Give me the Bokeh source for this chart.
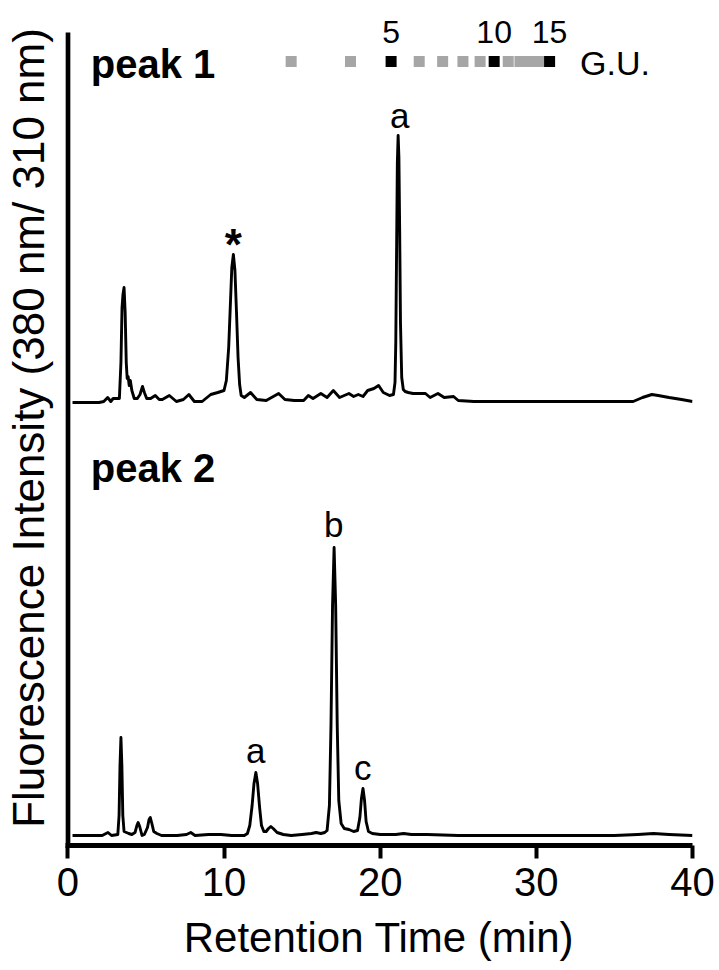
from bokeh.plotting import figure
from bokeh.models import Range1d, FixedTicker, ColumnDataSource
from bokeh.core.properties import value
from bokeh.embed import file_html
from bokeh.resources import INLINE

# ---------------- data ----------------
# Retention time (min) and fluorescence signal (arbitrary units) for "peak 1"
peak1_time = [0.3, 1.0, 2.0, 2.3, 2.55, 2.75, 2.9, 3.3, 3.4, 3.47, 3.53, 3.6, 3.67, 3.74,
              3.8, 3.86, 3.93, 4.0, 4.1, 4.25, 4.45, 4.62, 4.78, 4.9, 5.05, 5.3, 5.6, 5.85,
              6.05, 6.5, 6.95, 7.4, 7.75, 8.1, 8.6, 9.15, 9.6, 10.0, 10.15, 10.3, 10.4,
              10.5, 10.6, 10.7, 10.8, 10.9, 11.0, 11.1, 11.3, 11.7, 12.1, 12.7, 13.5,
              13.9, 14.5, 15.1, 15.4, 15.7, 16.2, 16.6, 17.0, 17.4, 18.0, 18.3, 18.6,
              18.9, 19.2, 19.6, 19.9, 20.2, 20.6, 20.85, 20.95, 21.0, 21.05, 21.1, 21.15,
              21.2, 21.25, 21.3, 21.38, 21.48, 21.6, 21.8, 22.1, 22.5, 22.9, 23.2, 23.7,
              24.1, 24.7, 25.0, 26.0, 28.0, 30.0, 32.0, 34.0, 36.2, 36.8, 37.4, 37.8,
              38.5, 39.3, 40.0]
peak1_signal = [0, 0, 0, 1, 5, 1, 4, 4, 40, 95, 108, 115, 90, 40,
                24, 26, 17, 22, 12, 4, 4, 8, 16, 10, 4, 4, 7, 3,
                3, 7, 1, 3, 8, 1, 1, 8, 10, 12, 22, 55, 95,
                135, 148, 132, 90, 45, 18, 7, 5, 10, 3, 2, 9,
                3, 2, 2, 7, 4, 9, 5, 12, 5, 9, 6, 8,
                6, 12, 14, 17, 10, 7, 8, 20, 60, 150, 240, 267,
                245, 170, 80, 25, 13, 11, 10, 9, 9, 9, 5, 9,
                5, 6, 2, 1, 1, 1, 1, 1, 1, 5, 8, 7,
                5, 3, 1]

# Retention time (min) and fluorescence signal (arbitrary units) for "peak 2"
peak2_time = [0.3, 1.5, 2.2, 2.57, 2.8, 3.2, 3.28, 3.34, 3.4, 3.46, 3.52, 3.6, 3.75, 3.9,
              4.1, 4.3, 4.42, 4.5, 4.6, 4.75, 4.9, 5.1, 5.2, 5.28, 5.38, 5.5, 5.7, 6.0,
              7.0, 7.6, 7.87, 8.15, 9.0, 9.8, 10.5, 11.3, 11.5, 11.65, 11.8, 11.92, 12.04,
              12.15, 12.28, 12.4, 12.55, 12.7, 12.85, 13.0, 13.15, 13.4, 13.8, 14.3, 15.0,
              15.6, 15.9, 16.2, 16.45, 16.6, 16.75, 16.85, 16.95, 17.05, 17.15, 17.25,
              17.35, 17.5, 17.7, 18.0, 18.3, 18.55, 18.7, 18.8, 18.9, 19.0, 19.1, 19.25,
              19.5, 20.0, 20.5, 21.0, 21.5, 22.0, 23.0, 25.0, 30.0, 35.0, 36.5, 37.5,
              38.5, 40.0]
peak2_signal = [0, 0, 0, 3, 0, 1, 20, 70, 98, 70, 20, 4, 3, 2,
                1, 3, 10, 13, 9, 0, 1, 8, 16, 18, 12, 4, 2, 0,
                0, 1, 3, 0, 1, 1, 0, 0, 2, 10, 30, 52, 63,
                52, 28, 10, 4, 4, 7, 9, 7, 3, 1, 0, 1,
                2, 3, 2, 3, 5, 30, 110, 230, 288, 230, 110,
                35, 12, 7, 6, 4, 5, 18, 37, 47, 35, 14, 4,
                2, 1, 1, 1, 2, 1, 1, 0, 0, 0, 1, 2,
                1, 0]

# Glucose-unit ladder (G.U.) positions along the retention-time axis
gu_units = [3, 4, 5, 6, 7, 8, 9, 10, 11, 12, 13, 14, 15]
gu_times = [14.3, 18.1, 20.7, 22.5, 24.0, 25.3, 26.4, 27.3, 28.2, 28.95, 29.6, 30.25, 30.85]
gu_labelled = [5, 10, 15]

# x axis ticks
x_ticks = [0, 10, 20, 30, 40]

# ---------------- styling / layout ----------------
FONT = "Liberation Sans"
trace1_offset = 433   # vertical stacking of the upper chromatogram
axis_top = 803        # top end of the drawn y-axis line
ladder_y = 774

p = figure(width=719, height=970, output_backend="svg", toolbar_location=None,
           x_range=Range1d(-0.15, 40), y_range=Range1d(-10, 825),
           min_border_left=65, min_border_right=27, min_border_top=10,
           min_border_bottom=125)
p.outline_line_color = None
p.xgrid.visible = False
p.ygrid.visible = False
p.background_fill_color = "white"
p.border_fill_color = "white"

# y-axis line drawn as a segment so that it stops below the G.U. ladder
p.segment(x0=[0], y0=[-10], x1=[0], y1=[axis_top], line_color="black", line_width=5)

# chromatograms
p.line(peak1_time, [s + trace1_offset for s in peak1_signal],
       line_color="black", line_width=2.9, line_join="round")
p.line(peak2_time, peak2_signal, line_color="black", line_width=2.9, line_join="round")

# G.U. ladder
gu_colors = ["black" if u in gu_labelled else "#a6a6a6" for u in gu_units]
src = ColumnDataSource(dict(x=gu_times, y=[ladder_y] * len(gu_times), c=gu_colors))
p.scatter("x", "y", source=src, marker="square", size=11, fill_color="c",
          line_color=None)
lab_t = [gu_times[gu_units.index(u)] for u in gu_labelled]
p.text(x=lab_t, y=[804] * len(lab_t), text=[str(u) for u in gu_labelled],
       text_font=value(FONT), text_font_size="32px", text_align="center",
       text_baseline="alphabetic", text_color="black")
p.text(x=[32.8], y=[773], text=["G.U."], text_font=value(FONT),
       text_font_size="34px", text_align="left", text_baseline="alphabetic",
       text_color="black")

# panel titles
p.text(x=[1.47, 1.47], y=[772, 368], text=["peak 1", "peak 2"],
       text_font=value(FONT), text_font_size="40px", text_font_style="bold",
       text_align="left", text_baseline="alphabetic", text_color="black")

# peak annotations
p.text(x=[21.25, 17.02, 12.03, 18.88], y=[720, 311, 85, 68],
       text=["a", "b", "a", "c"], text_font=value(FONT), text_font_size="35px",
       text_align="center", text_baseline="alphabetic", text_color="black")
p.text(x=[10.6], y=[591], text=["*"], text_font=value(FONT), text_font_size="44px",
       text_font_style="bold", text_align="center", text_baseline="alphabetic",
       text_color="black")

# axes
xa = p.xaxis[0]
xa.ticker = FixedTicker(ticks=x_ticks)
xa.minor_tick_line_color = None
xa.major_tick_in = 0
xa.major_tick_out = 13
xa.major_tick_line_width = 4
xa.major_tick_line_color = "black"
xa.axis_line_width = 5
xa.axis_line_color = "black"
xa.major_label_text_font = FONT
xa.major_label_text_font_size = "40px"
xa.major_label_text_color = "black"
xa.major_label_standoff = 9
xa.axis_label = "Retention Time (min)"
xa.axis_label_text_font = FONT
xa.axis_label_text_font_size = "42px"
xa.axis_label_text_font_style = "normal"
xa.axis_label_text_color = "black"
xa.axis_label_standoff = 15

ya = p.yaxis[0]
ya.ticker = FixedTicker(ticks=[])
ya.minor_tick_line_color = None
ya.major_tick_line_color = None
ya.major_tick_in = 0
ya.major_tick_out = 0
ya.axis_line_color = None
ya.axis_label = "Fluorescence Intensity (380 nm/ 310 nm)"
ya.axis_label_text_font = FONT
ya.axis_label_text_font_size = "44px"
ya.axis_label_text_font_style = "normal"
ya.axis_label_text_color = "black"
ya.axis_label_standoff = 13

open("out.html", "w").write(file_html(p, INLINE))
